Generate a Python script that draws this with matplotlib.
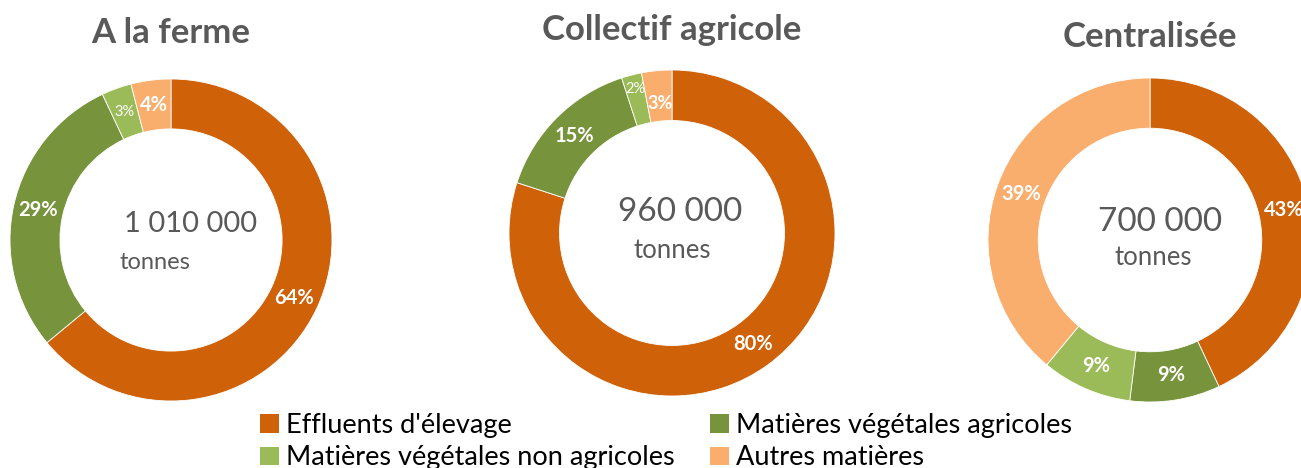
import matplotlib
matplotlib.use('Agg')
import matplotlib.pyplot as plt
from matplotlib.patches import Patch
import numpy as np

plt.rcParams['font.family'] = ['Lato', 'DejaVu Sans']

# Données
categories = ["Effluents d'élevage", "Matières végétales agricoles",
              "Matières végétales non agricoles", "Autres matières"]
couleurs = ['#CF6209', '#77933C', '#9BBB59', '#F9AE6E']

titres = ['A la ferme', 'Collectif agricole', 'Centralisée']
tonnages = ['1 010 000', '960 000', '700 000']
ferme = [64, 29, 3, 4]
collectif = [80, 15, 2, 3]
centralisee = [43, 9, 9, 39]
series = [ferme, collectif, centralisee]

W, H = 1301, 468
fig = plt.figure(figsize=(W / 100, H / 100), dpi=100)

# position des donuts en pixels : centre x, centre y (depuis le haut), rayon
boxes = [(171, 240, 161), (672, 233, 163), (1150, 240, 162)]
titre_y = [33, 30, 37]
chiffre_pos = [(0.12, 0.10), (0.05, 0.13), (0.06, 0.11)]
chiffre_taille = [21, 24, 24]
tonnes_pos = [(-0.10, -0.14), (0.0, -0.11), (0.02, -0.11)]
tonnes_taille = [17, 18.5, 18.5]
# décalage radial des petites étiquettes (collectif : 2% vers l'extérieur, 3% vers l'intérieur)
decalage = {(1, 2): 0.07, (1, 3): -0.05}

for i, (valeurs, (cx, cy, r)) in enumerate(zip(series, boxes)):
    ax = fig.add_axes([(cx - r) / W, (H - cy - r) / H, 2 * r / W, 2 * r / H])
    wedges, texts = ax.pie(valeurs, colors=couleurs, startangle=90, counterclock=False,
                           radius=1, wedgeprops=dict(width=0.31, edgecolor='white', linewidth=0.6))
    for k, (w, v) in enumerate(zip(wedges, valeurs)):
        ang = np.deg2rad((w.theta1 + w.theta2) / 2)
        rr = 1 - 0.31 / 2 + decalage.get((i, k), 0)
        petit = v <= 3 and k == 2
        taille = 10.5 if petit else (13 if v <= 3 else 14.5)
        ax.text(rr * np.cos(ang), rr * np.sin(ang), f'{v}%', ha='center', va='center',
                color='white', fontsize=taille,
                fontweight='normal' if petit else 'bold')
    ax.set_xlim(-1, 1)
    ax.set_ylim(-1, 1)
    ax.set_aspect('equal')
    ax.axis('off')
    ax.text(chiffre_pos[i][0], chiffre_pos[i][1], tonnages[i], ha='center', va='center',
            fontsize=chiffre_taille[i], color='#595959')
    ax.text(tonnes_pos[i][0], tonnes_pos[i][1], 'tonnes', ha='center', va='center',
            fontsize=tonnes_taille[i], color='#595959')
    fig.text(cx / W, 1 - titre_y[i] / H, titres[i], ha='center', va='center',
             fontsize=25, fontweight='bold', color='#595959')

handles = [Patch(facecolor=c) for c in couleurs]
order = [0, 2, 1, 3]
fig.legend([handles[k] for k in order], [categories[k] for k in order],
           ncol=2, loc='lower left', bbox_to_anchor=(244 / W, -0.04),
           frameon=False, fontsize=19.5, handlelength=0.7, handleheight=0.7,
           handletextpad=0.25, columnspacing=1.3, labelspacing=0.27, borderpad=0.1)

fig.savefig('out.png', dpi=100)
